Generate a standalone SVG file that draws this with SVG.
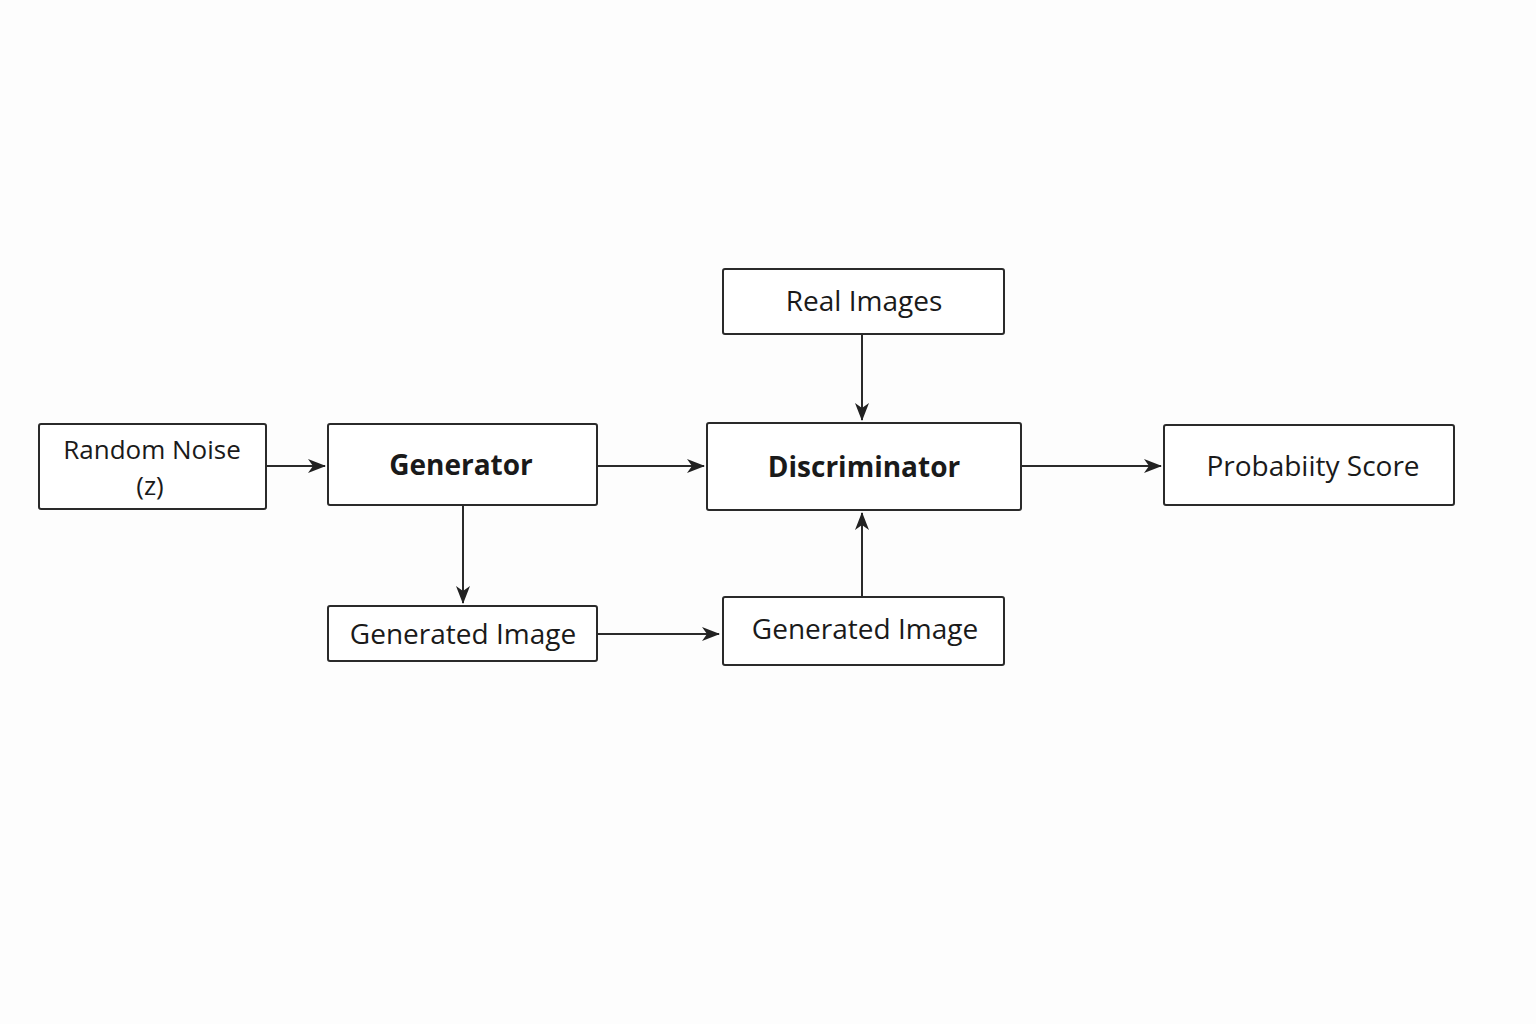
<svg xmlns="http://www.w3.org/2000/svg" width="1536" height="1024" viewBox="0 0 1536 1024">
<defs>
<marker id="ah" viewBox="0 0 18 14" refX="17" refY="7" markerWidth="18" markerHeight="14" markerUnits="userSpaceOnUse" orient="auto">
<path d="M0,0 L18,7 L0,14 L5,7 Z" fill="#222"/>
</marker>
<style>
.box{fill:#fff;stroke:#2a2a2a;stroke-width:2}
.t{font-family:"Open Sans","Noto Sans",sans-serif;font-size:28px;fill:#1a1a1a;text-anchor:middle}
.s{font-size:26px}
.b{font-weight:bold}
.c{stroke:#2a2a2a;stroke-width:2;fill:none;marker-end:url(#ah)}
</style>
</defs>
<rect width="1536" height="1024" fill="#fdfdfd"/>
<g id="connectors">
<line class="c" x1="266" y1="466" x2="325" y2="466"/>
<line class="c" x1="597" y1="466" x2="704" y2="466"/>
<line class="c" x1="1021" y1="466" x2="1161" y2="466"/>
<line class="c" x1="862" y1="334" x2="862" y2="420"/>
<line class="c" x1="463" y1="505" x2="463" y2="603"/>
<line class="c" x1="597" y1="634" x2="719" y2="634"/>
<line class="c" x1="862" y1="597" x2="862" y2="513"/>
</g>
<g id="random-noise">
<rect class="box" x="39" y="424" width="227" height="85" rx="2"/>
<text class="t s" x="152" y="459">Random Noise</text>
<text class="t s" x="150" y="495">(z)</text>
</g>
<g id="generator">
<rect class="box" x="328" y="424" width="269" height="81" rx="2"/>
<text class="t b" x="461" y="475">Generator</text>
</g>
<g id="discriminator">
<rect class="box" x="707" y="423" width="314" height="87" rx="2"/>
<text class="t b" x="864" y="477">Discriminator</text>
</g>
<g id="probability-score">
<rect class="box" x="1164" y="425" width="290" height="80" rx="2"/>
<text class="t" x="1313" y="476">Probabiity Score</text>
</g>
<g id="real-images">
<rect class="box" x="723" y="269" width="281" height="65" rx="2"/>
<text class="t" x="864" y="311">Real Images</text>
</g>
<g id="generated-image-1">
<rect class="box" x="328" y="606" width="269" height="55" rx="2"/>
<text class="t" x="463" y="644">Generated Image</text>
</g>
<g id="generated-image-2">
<rect class="box" x="723" y="597" width="281" height="68" rx="2"/>
<text class="t" x="865" y="639">Generated Image</text>
</g>
</svg>
